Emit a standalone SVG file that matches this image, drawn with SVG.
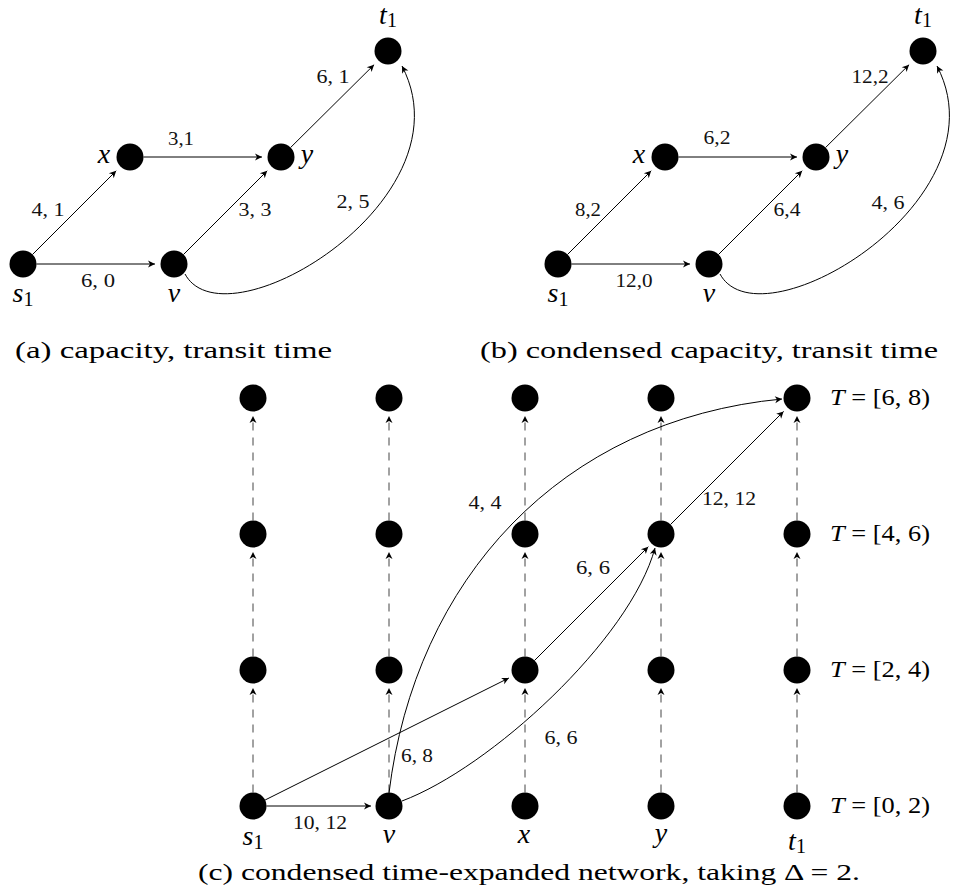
<svg xmlns="http://www.w3.org/2000/svg" width="954" height="894" viewBox="0 0 954 894" font-family="Liberation Serif, Times New Roman, serif">
<style>
.n{fill:#000}
.e{fill:none;stroke:#000;stroke-width:1;marker-end:url(#arr)}
.d{fill:none;stroke:#444;stroke-width:1;stroke-dasharray:8 7;marker-end:url(#arr)}
.lbl{font-size:18px;fill:#111;text-anchor:middle}
.m{font-size:28px;font-style:italic;fill:#000;text-anchor:middle}
.sub{font-size:20px;font-style:normal}
.cap{font-size:24px;fill:#000}
.tl{font-size:23px;fill:#000}
.it{font-style:italic}
</style>
<defs>
<marker id="arr" markerUnits="userSpaceOnUse" markerWidth="10" markerHeight="10" viewBox="-8 -5 10 10" refX="0" refY="0" orient="auto">
<path d="M0,0 L-7,-3.5 L-5,0 L-7,3.5 Z" fill="#000"/>
</marker>
</defs>

<!-- Panel (a) -->
<g id="a-s1"><circle class="n" cx="23" cy="264" r="13.5"/><text class="m" x="23" y="302">s<tspan class="sub" dy="4">1</tspan></text></g>
<g id="a-x"><circle class="n" cx="130" cy="157" r="13.5"/><text class="m" x="104" y="163">x</text></g>
<g id="a-y"><circle class="n" cx="281" cy="157" r="13.5"/><text class="m" x="307" y="163">y</text></g>
<g id="a-v"><circle class="n" cx="174" cy="264" r="13.5"/><text class="m" x="174" y="302">v</text></g>
<g id="a-t1"><circle class="n" cx="388" cy="51" r="13.5"/><text class="m" x="388" y="24">t<tspan class="sub" dy="3">1</tspan></text></g>

<!-- Panel (b) -->
<g id="b-s1"><circle class="n" cx="558" cy="264" r="13.5"/><text class="m" x="558" y="302">s<tspan class="sub" dy="4">1</tspan></text></g>
<g id="b-x"><circle class="n" cx="665" cy="157" r="13.5"/><text class="m" x="639" y="163">x</text></g>
<g id="b-y"><circle class="n" cx="816" cy="157" r="13.5"/><text class="m" x="842" y="163">y</text></g>
<g id="b-v"><circle class="n" cx="709" cy="264" r="13.5"/><text class="m" x="709" y="302">v</text></g>
<g id="b-t1"><circle class="n" cx="923" cy="51" r="13.5"/><text class="m" x="923" y="24">t<tspan class="sub" dy="3">1</tspan></text></g>

<!-- Panel (c) nodes -->
<g id="c-s1-0"><circle class="n" cx="253" cy="806" r="13.5"/><text class="m" x="253" y="845">s<tspan class="sub" dy="4">1</tspan></text></g>
<g id="c-s1-1"><circle class="n" cx="253" cy="670" r="13.5"/></g>
<g id="c-s1-2"><circle class="n" cx="253" cy="534" r="13.5"/></g>
<g id="c-s1-3"><circle class="n" cx="253" cy="398" r="13.5"/></g>
<g id="c-v-0"><circle class="n" cx="389" cy="806" r="13.5"/><text class="m" x="389" y="843">v</text></g>
<g id="c-v-1"><circle class="n" cx="389" cy="670" r="13.5"/></g>
<g id="c-v-2"><circle class="n" cx="389" cy="534" r="13.5"/></g>
<g id="c-v-3"><circle class="n" cx="389" cy="398" r="13.5"/></g>
<g id="c-x-0"><circle class="n" cx="525" cy="806" r="13.5"/><text class="m" x="524" y="843">x</text></g>
<g id="c-x-1"><circle class="n" cx="525" cy="670" r="13.5"/></g>
<g id="c-x-2"><circle class="n" cx="525" cy="534" r="13.5"/></g>
<g id="c-x-3"><circle class="n" cx="525" cy="398" r="13.5"/></g>
<g id="c-y-0"><circle class="n" cx="661" cy="806" r="13.5"/><text class="m" x="661" y="842">y</text></g>
<g id="c-y-1"><circle class="n" cx="661" cy="670" r="13.5"/></g>
<g id="c-y-2"><circle class="n" cx="661" cy="534" r="13.5"/></g>
<g id="c-y-3"><circle class="n" cx="661" cy="398" r="13.5"/></g>
<g id="c-t1-0"><circle class="n" cx="797" cy="806" r="13.5"/><text class="m" x="797" y="850">t<tspan class="sub" dy="3">1</tspan></text><text class="tl" x="830" y="813" textLength="100" lengthAdjust="spacingAndGlyphs"><tspan class="it">T</tspan> = [0, 2)</text></g>
<g id="c-t1-1"><circle class="n" cx="797" cy="670" r="13.5"/><text class="tl" x="830" y="677" textLength="100" lengthAdjust="spacingAndGlyphs"><tspan class="it">T</tspan> = [2, 4)</text></g>
<g id="c-t1-2"><circle class="n" cx="797" cy="534" r="13.5"/><text class="tl" x="830" y="541" textLength="100" lengthAdjust="spacingAndGlyphs"><tspan class="it">T</tspan> = [4, 6)</text></g>
<g id="c-t1-3"><circle class="n" cx="797" cy="398" r="13.5"/><text class="tl" x="830" y="405" textLength="100" lengthAdjust="spacingAndGlyphs"><tspan class="it">T</tspan> = [6, 8)</text></g>

<!-- Connectors -->
<g id="connectors">
<path class="e" d="M32.5,254.5 L116.2,170.8"/>
<path class="e" d="M36.5,264 L155,264"/>
<path class="e" d="M143.5,157 L262,157"/>
<path class="e" d="M183.5,254.5 L267.2,170.8"/>
<path class="e" d="M290.6,147.5 L374.1,64.7"/>
<path class="e" d="M185,274 C225,348 472,200 402,66"/>
<path class="e" d="M567.5,254.5 L651.2,170.8"/>
<path class="e" d="M571.5,264 L690,264"/>
<path class="e" d="M678.5,157 L797,157"/>
<path class="e" d="M718.5,254.5 L802.2,170.8"/>
<path class="e" d="M825.6,147.5 L909.1,64.7"/>
<path class="e" d="M720,274 C760,348 1007,200 937,66"/>
<path class="d" d="M253,792.5 L253,688"/><path class="d" d="M253,656.5 L253,552"/><path class="d" d="M253,520.5 L253,416"/>
<path class="d" d="M389,792.5 L389,688"/><path class="d" d="M389,656.5 L389,552"/><path class="d" d="M389,520.5 L389,416"/>
<path class="d" d="M525,792.5 L525,688"/><path class="d" d="M525,656.5 L525,552"/><path class="d" d="M525,520.5 L525,416"/>
<path class="d" d="M661,792.5 L661,688"/><path class="d" d="M661,656.5 L661,552"/><path class="d" d="M661,520.5 L661,416"/>
<path class="d" d="M797,792.5 L797,688"/><path class="d" d="M797,656.5 L797,552"/><path class="d" d="M797,520.5 L797,416"/>
<path class="e" d="M266.5,806 L371,806"/>
<path class="e" d="M265.1,800 L508.9,678"/>
<path class="e" d="M534.5,660.5 L648.3,546.7"/>
<path class="e" d="M670.5,524.5 L783.6,411.4"/>
<path class="e" d="M389,793 C415,580 560,420 782,399"/>
<path class="e" d="M402,801 C490,768 630,640 655,548"/>
</g>

<!-- Edge labels -->
<g id="edge-labels" class="lbl">
<text x="48" y="216" textLength="33" lengthAdjust="spacingAndGlyphs">4, 1</text>
<text x="181" y="145" textLength="26" lengthAdjust="spacingAndGlyphs">3,1</text>
<text x="333" y="83" textLength="33" lengthAdjust="spacingAndGlyphs">6, 1</text>
<text x="255" y="216" textLength="33" lengthAdjust="spacingAndGlyphs">3, 3</text>
<text x="353" y="208" textLength="33" lengthAdjust="spacingAndGlyphs">2, 5</text>
<text x="98" y="287" textLength="34" lengthAdjust="spacingAndGlyphs">6, 0</text>
<text x="588" y="216" textLength="26" lengthAdjust="spacingAndGlyphs">8,2</text>
<text x="717" y="144" textLength="27" lengthAdjust="spacingAndGlyphs">6,2</text>
<text x="870" y="83" textLength="37" lengthAdjust="spacingAndGlyphs">12,2</text>
<text x="787" y="216" textLength="27" lengthAdjust="spacingAndGlyphs">6,4</text>
<text x="888" y="209" textLength="33" lengthAdjust="spacingAndGlyphs">4, 6</text>
<text x="634" y="287" textLength="37" lengthAdjust="spacingAndGlyphs">12,0</text>
<text x="485" y="509" textLength="33" lengthAdjust="spacingAndGlyphs">4, 4</text>
<text x="729" y="505" textLength="54" lengthAdjust="spacingAndGlyphs">12, 12</text>
<text x="593" y="574" textLength="34" lengthAdjust="spacingAndGlyphs">6, 6</text>
<text x="417" y="762" textLength="32" lengthAdjust="spacingAndGlyphs">6, 8</text>
<text x="320" y="829" textLength="54" lengthAdjust="spacingAndGlyphs">10, 12</text>
<text x="561" y="744" textLength="33" lengthAdjust="spacingAndGlyphs">6, 6</text>
</g>

<!-- Captions -->
<g id="captions" class="cap">
<text x="15" y="358" textLength="317" lengthAdjust="spacingAndGlyphs">(a) capacity, transit time</text>
<text x="480" y="358" textLength="458" lengthAdjust="spacingAndGlyphs">(b) condensed capacity, transit time</text>
<text x="198" y="880" textLength="662" lengthAdjust="spacingAndGlyphs">(c) condensed time-expanded network, taking Δ = 2.</text>
</g>
</svg>
